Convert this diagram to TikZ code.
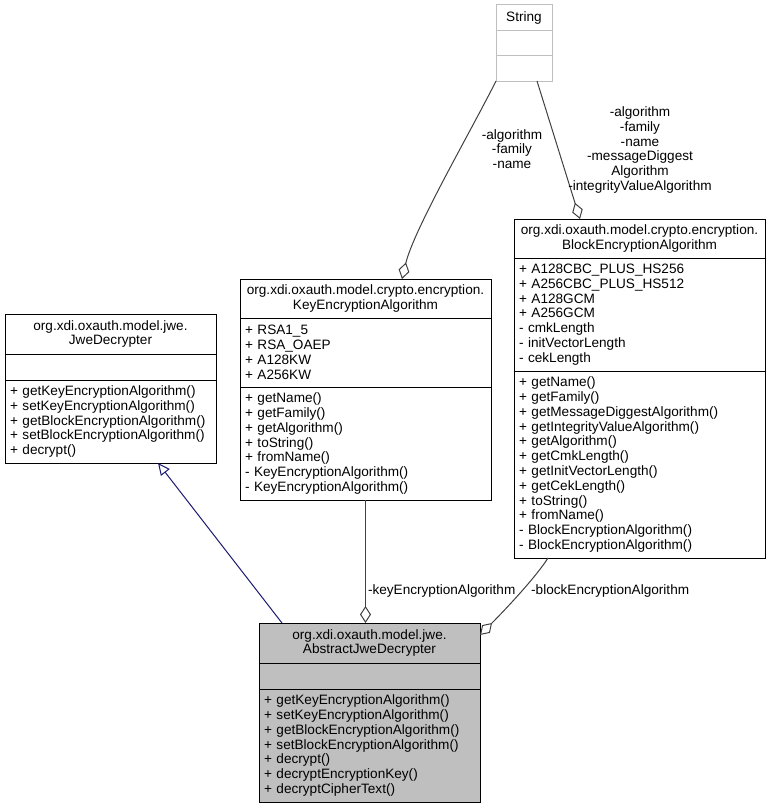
\documentclass[tikz,border=0pt]{standalone}
\usepackage{fontspec}
\setmainfont{Liberation Sans}
\usepackage[HTML]{xcolor}
\usepackage{tikz}
\usetikzlibrary{positioning, arrows, arrows.meta}

\definecolor{edgegrey}{HTML}{404040}
\definecolor{inheritblue}{HTML}{191970}
\definecolor{stringgrey}{HTML}{BFBFBF}
\definecolor{focusgrey}{HTML}{BFBFBF}
\newcommand{\umlfont}{\fontsize{13.6}{14.8}\selectfont}

\begin{document}
\begin{tikzpicture}[x=1pt, y=-1pt, node distance=0pt,
    umlpart/.style={draw=black, fill=white, line width=1pt, font=\umlfont, inner xsep=5pt, inner ysep=1pt, outer sep=0pt, anchor=north},
    umlname/.style={umlpart, align=center},
    umlbody/.style={umlpart, align=left},
    aggr/.style={draw=edgegrey, line width=1pt, -{Diamond[open, length=17pt, width=11pt]}},
    inherit/.style={draw=inheritblue, line width=1pt, -{Triangle[open, length=12pt, width=11pt]}},
    lbl/.style={font=\umlfont, align=center, inner sep=0pt}] % Setting global styles
    \useasboundingbox (0,0) rectangle (771,808);

    % 1. String (external class, grey frame)
    \node[umlname, draw=stringgrey, text width=46pt, minimum height=26pt] (strT) at (524,5) {String};
    \node[umlbody, draw=stringgrey, text width=46pt, minimum height=25pt, below=of strT] (strA) {};
    \node[umlbody, draw=stringgrey, text width=46pt, minimum height=25pt, below=of strA] (strM) {};

    % 2. JweDecrypter
    \node[umlname, text width=201pt, minimum height=40pt] (jweT) at (110.5,314) {org.xdi.oxauth.model.jwe.\\JweDecrypter};
    \node[umlbody, text width=201pt, minimum height=26pt, below=of jweT] (jweA) {};
    \node[umlbody, text width=201pt, minimum height=83pt, below=of jweA] (jweM) {+ getKeyEncryptionAlgorithm()\\+ setKeyEncryptionAlgorithm()\\+ getBlockEncryptionAlgorithm()\\+ setBlockEncryptionAlgorithm()\\+ decrypt()};

    % 3. KeyEncryptionAlgorithm
    \node[umlname, text width=241pt, minimum height=39pt] (keaT) at (365.5,279) {org.xdi.oxauth.model.crypto.encryption.\\KeyEncryptionAlgorithm};
    \node[umlbody, text width=241pt, minimum height=69pt, below=of keaT] (keaA) {+ RSA1\_5\\+ RSA\_OAEP\\+ A128KW\\+ A256KW};
    \node[umlbody, text width=241pt, minimum height=113pt, below=of keaA] (keaM) {+ getName()\\+ getFamily()\\+ getAlgorithm()\\+ toString()\\+ fromName()\\- KeyEncryptionAlgorithm()\\- KeyEncryptionAlgorithm()};

    % 4. BlockEncryptionAlgorithm
    \node[umlname, text width=241pt, minimum height=39pt] (beaT) at (639.5,219) {org.xdi.oxauth.model.crypto.encryption.\\BlockEncryptionAlgorithm};
    \node[umlbody, text width=241pt, minimum height=113pt, below=of beaT] (beaA) {+ A128CBC\_PLUS\_HS256\\+ A256CBC\_PLUS\_HS512\\+ A128GCM\\+ A256GCM\\- cmkLength\\- initVectorLength\\- cekLength};
    \node[umlbody, text width=241pt, minimum height=187pt, below=of beaA] (beaM) {+ getName()\\+ getFamily()\\+ getMessageDiggestAlgorithm()\\+ getIntegrityValueAlgorithm()\\+ getAlgorithm()\\+ getCmkLength()\\+ getInitVectorLength()\\+ getCekLength()\\+ toString()\\+ fromName()\\- BlockEncryptionAlgorithm()\\- BlockEncryptionAlgorithm()};

    % 5. AbstractJweDecrypter (the class in focus, filled)
    \node[umlname, fill=focusgrey, text width=211pt, minimum height=40pt] (absT) at (369.5,623) {org.xdi.oxauth.model.jwe.\\AbstractJweDecrypter};
    \node[umlbody, fill=focusgrey, text width=211pt, minimum height=26pt, below=of absT] (absA) {};
    \node[umlbody, fill=focusgrey, text width=211pt, minimum height=113pt, below=of absA] (absM) {+ getKeyEncryptionAlgorithm()\\+ setKeyEncryptionAlgorithm()\\+ getBlockEncryptionAlgorithm()\\+ setBlockEncryptionAlgorithm()\\+ decrypt()\\+ decryptEncryptionKey()\\+ decryptCipherText()};

    % 6. Inheritance: AbstractJweDecrypter -> JweDecrypter
    \draw[inherit] ([xshift=23pt]absT.north west) -- ([xshift=153pt]jweM.south west);

    % 7. Aggregations
    \draw[aggr] (keaM.south) -- (keaM.south |- absT.north) node[pos=0.74, right=2pt, lbl] {-keyEncryptionAlgorithm};
    \draw[aggr] ([xshift=34pt]beaM.south west) .. controls +(-14,22) and +(18,-18) .. ([yshift=-12pt]absT.north east);
    \node[lbl, anchor=west] (blockLbl) at (531,591) {-blockEncryptionAlgorithm};
    \draw[aggr] (strM.south west) .. controls +(-25,50) and +(12,-50) .. ([xshift=162pt]keaT.north west);
    \node[lbl] (keaStrLbl) at (512,149) {-algorithm\\-family\\-name};
    \draw[aggr] ([xshift=41pt]strM.south west) -- ([xshift=66pt]beaT.north west);
    \node[lbl] (beaStrLbl) at (640,150) {-algorithm\\-family\\-name\\-messageDiggest\\Algorithm\\-integrityValueAlgorithm};
\end{tikzpicture}
\end{document}
